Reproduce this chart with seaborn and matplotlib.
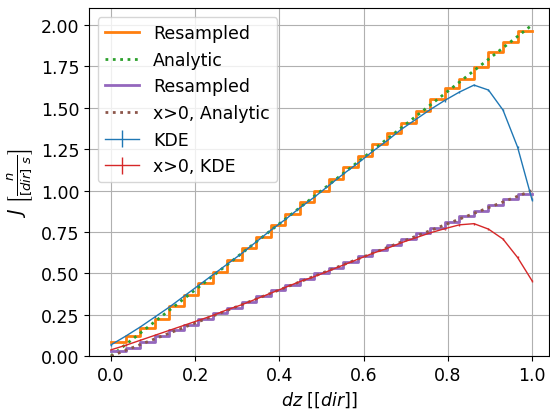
import numpy as np
import pandas as pd
import matplotlib
matplotlib.use("Agg")
import matplotlib.pyplot as plt
import seaborn as sns

# bin edges of the resampled histogram and KDE evaluation points
n_bins = 29
edges = np.linspace(0.0, 1.0, n_bins + 1)

# resampled flux per bin (full domain and x>0 subset)
resampled_full = [0.083, 0.119, 0.167, 0.224, 0.30, 0.37, 0.44, 0.51, 0.58, 0.65,
                  0.72, 0.79, 0.86, 0.93, 1.00, 1.07, 1.14, 1.21, 1.28, 1.35,
                  1.41, 1.48, 1.55, 1.617, 1.674, 1.748, 1.835, 1.895, 1.966]
resampled_pos = [0.032, 0.052, 0.085, 0.12, 0.155, 0.19, 0.225, 0.258, 0.293, 0.328,
                 0.362, 0.397, 0.431, 0.466, 0.50, 0.534, 0.569, 0.603, 0.638, 0.672,
                 0.707, 0.741, 0.776, 0.81, 0.845, 0.879, 0.914, 0.949, 0.979]

# KDE estimates at the bin edges
kde_full = [0.068, 0.12, 0.175, 0.235, 0.295, 0.36, 0.425, 0.49, 0.555, 0.62,
            0.69, 0.76, 0.825, 0.895, 0.96, 1.03, 1.10, 1.165, 1.235, 1.30,
            1.37, 1.43, 1.49, 1.545, 1.595, 1.637, 1.607, 1.486, 1.263, 0.944]
kde_pos = [0.038, 0.065, 0.095, 0.125, 0.155, 0.185, 0.215, 0.245, 0.28, 0.31,
           0.345, 0.38, 0.415, 0.45, 0.48, 0.515, 0.55, 0.585, 0.62, 0.65,
           0.685, 0.715, 0.745, 0.77, 0.793, 0.80, 0.767, 0.707, 0.596, 0.455]
kde_err_full = [0.008] * 30
kde_err_pos = [0.006] * 30

# analytic profiles
analytic_x = [0.0, 1.0]
analytic_full = [0.0, 2.0]
analytic_pos = [0.0, 1.0]

plt.rcParams.update({"font.size": 12.5})
fig = plt.figure(figsize=(5.5, 4.1), dpi=100)
ax = fig.add_axes([0.162, 0.129, 0.836, 0.848])

pal = sns.color_palette("tab10")

ax.errorbar(edges, kde_full, yerr=kde_err_full, color=pal[0], lw=1.0,
            elinewidth=1.0, label="KDE")
step_full = pd.DataFrame({"x": edges, "y": [resampled_full[0]] + resampled_full})
sns.lineplot(data=step_full, x="x", y="y", ax=ax, color=pal[1], lw=2,
             drawstyle="steps-pre", label="Resampled")
sns.lineplot(x=analytic_x, y=analytic_full, ax=ax, color=pal[2], lw=2,
             linestyle=":", label="Analytic")

ax.errorbar(edges, kde_pos, yerr=kde_err_pos, color=pal[3], lw=1.0,
            elinewidth=1.0, label="x>0, KDE")
step_pos = pd.DataFrame({"x": edges, "y": [resampled_pos[0]] + resampled_pos})
sns.lineplot(data=step_pos, x="x", y="y", ax=ax, color=pal[4], lw=2,
             drawstyle="steps-pre", label="Resampled")
sns.lineplot(x=analytic_x, y=analytic_pos, ax=ax, color=pal[5], lw=2,
             linestyle=":", label="x>0, Analytic")

ax.set_xlim(-0.052, 1.04)
ax.set_ylim(0.0, 2.1)
ax.set_xticks([0.0, 0.2, 0.4, 0.6, 0.8, 1.0])
ax.set_yticks(np.arange(0, 2.01, 0.25))
ax.yaxis.set_major_formatter(matplotlib.ticker.FormatStrFormatter("%.2f"))
ax.grid(True, color="#b0b0b0", lw=0.8)
ax.set_axisbelow(True)
ax.set_xlabel(r"$dz\ [[dir]]$")
ax.set_ylabel(r"$J\ \left[\frac{n}{[dir]\ s}\right]$", fontsize=13.5)
ax.legend(loc="upper left", fontsize=12.5)

fig.savefig("out.png", dpi=100)
